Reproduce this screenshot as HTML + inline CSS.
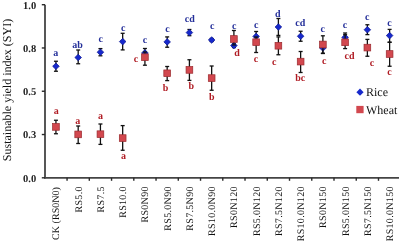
<!DOCTYPE html>
<html><head><meta charset="utf-8"><style>
html,body{margin:0;padding:0;background:#fff;}
svg{display:block;will-change:transform;}
text{font-family:"Liberation Serif",serif;text-rendering:geometricPrecision;}
.yt{font-size:10.5px;font-weight:bold;text-anchor:end;fill:#222;}
.xt{font-size:10px;letter-spacing:0.32px;text-anchor:end;fill:#111;}
.tt{font-size:12px;text-anchor:middle;fill:#111;}
.dl{font-size:10px;font-weight:bold;text-anchor:middle;}
.lg{font-size:12px;fill:#111;}
</style></head><body>
<svg width="400" height="241" viewBox="0 0 400 241">
<line x1="45.0" y1="4.7" x2="45.0" y2="178.60000000000002" stroke="#444" stroke-width="1.8"/>
<line x1="44.2" y1="177.8" x2="399" y2="177.8" stroke="#444" stroke-width="1.8"/>
<line x1="41.8" y1="177.80" x2="45.0" y2="177.80" stroke="#2a2a2a" stroke-width="1.4"/>
<text x="36.2" y="181.60" class="yt">0.0</text>
<line x1="41.8" y1="134.53" x2="45.0" y2="134.53" stroke="#2a2a2a" stroke-width="1.4"/>
<text x="36.2" y="138.33" class="yt">0.3</text>
<line x1="41.8" y1="91.25" x2="45.0" y2="91.25" stroke="#2a2a2a" stroke-width="1.4"/>
<text x="36.2" y="95.05" class="yt">0.5</text>
<line x1="41.8" y1="47.97" x2="45.0" y2="47.97" stroke="#2a2a2a" stroke-width="1.4"/>
<text x="36.2" y="51.77" class="yt">0.8</text>
<line x1="41.8" y1="4.70" x2="45.0" y2="4.70" stroke="#2a2a2a" stroke-width="1.4"/>
<text x="36.2" y="8.50" class="yt">1.0</text>
<line x1="67.06" y1="177.8" x2="67.06" y2="180.8" stroke="#2a2a2a" stroke-width="1.4"/>
<line x1="89.31" y1="177.8" x2="89.31" y2="180.8" stroke="#2a2a2a" stroke-width="1.4"/>
<line x1="111.55" y1="177.8" x2="111.55" y2="180.8" stroke="#2a2a2a" stroke-width="1.4"/>
<line x1="133.80" y1="177.8" x2="133.80" y2="180.8" stroke="#2a2a2a" stroke-width="1.4"/>
<line x1="156.04" y1="177.8" x2="156.04" y2="180.8" stroke="#2a2a2a" stroke-width="1.4"/>
<line x1="178.29" y1="177.8" x2="178.29" y2="180.8" stroke="#2a2a2a" stroke-width="1.4"/>
<line x1="200.53" y1="177.8" x2="200.53" y2="180.8" stroke="#2a2a2a" stroke-width="1.4"/>
<line x1="222.78" y1="177.8" x2="222.78" y2="180.8" stroke="#2a2a2a" stroke-width="1.4"/>
<line x1="245.02" y1="177.8" x2="245.02" y2="180.8" stroke="#2a2a2a" stroke-width="1.4"/>
<line x1="267.27" y1="177.8" x2="267.27" y2="180.8" stroke="#2a2a2a" stroke-width="1.4"/>
<line x1="289.51" y1="177.8" x2="289.51" y2="180.8" stroke="#2a2a2a" stroke-width="1.4"/>
<line x1="311.76" y1="177.8" x2="311.76" y2="180.8" stroke="#2a2a2a" stroke-width="1.4"/>
<line x1="334.00" y1="177.8" x2="334.00" y2="180.8" stroke="#2a2a2a" stroke-width="1.4"/>
<line x1="356.25" y1="177.8" x2="356.25" y2="180.8" stroke="#2a2a2a" stroke-width="1.4"/>
<line x1="378.49" y1="177.8" x2="378.49" y2="180.8" stroke="#2a2a2a" stroke-width="1.4"/>
<line x1="400.74" y1="177.8" x2="400.74" y2="180.8" stroke="#2a2a2a" stroke-width="1.4"/>
<text transform="translate(59.34,187.0) rotate(-90)" class="xt" style="letter-spacing:0.05px">CK (RS0N0)</text>
<text transform="translate(81.59,186.2) rotate(-90)" class="xt">RS5.0</text>
<text transform="translate(103.83,186.2) rotate(-90)" class="xt">RS7.5</text>
<text transform="translate(126.08,186.2) rotate(-90)" class="xt">RS10.0</text>
<text transform="translate(148.32,186.2) rotate(-90)" class="xt">RS0N90</text>
<text transform="translate(170.57,186.2) rotate(-90)" class="xt">RS5.0N90</text>
<text transform="translate(192.81,186.2) rotate(-90)" class="xt">RS7.5N90</text>
<text transform="translate(215.06,186.2) rotate(-90)" class="xt">RS10.0N90</text>
<text transform="translate(237.30,186.2) rotate(-90)" class="xt">RS0N120</text>
<text transform="translate(259.54,186.2) rotate(-90)" class="xt">RS5.0N120</text>
<text transform="translate(281.79,186.2) rotate(-90)" class="xt">RS7.5N120</text>
<text transform="translate(304.03,186.2) rotate(-90)" class="xt">RS10.0N120</text>
<text transform="translate(326.28,186.2) rotate(-90)" class="xt">RS0N150</text>
<text transform="translate(348.52,186.2) rotate(-90)" class="xt">RS5.0N150</text>
<text transform="translate(370.77,186.2) rotate(-90)" class="xt">RS7.5N150</text>
<text transform="translate(393.01,186.2) rotate(-90)" class="xt">RS10.0N150</text>
<text transform="translate(10.6,90) rotate(-90)" class="tt">Sustainable yield index (SYI)</text>
<line x1="55.94" y1="61.25" x2="55.94" y2="71.25" stroke="#111" stroke-width="1.3"/><line x1="53.94" y1="61.25" x2="57.94" y2="61.25" stroke="#111" stroke-width="1.3"/><line x1="53.94" y1="71.25" x2="57.94" y2="71.25" stroke="#111" stroke-width="1.3"/>
<path d="M55.94 62.95L59.24 66.25L55.94 69.55L52.64 66.25Z" fill="#1729cc" stroke="#0c1690" stroke-width="0.7"/>
<line x1="78.19" y1="50.0" x2="78.19" y2="63.75" stroke="#111" stroke-width="1.3"/><line x1="76.19" y1="50.0" x2="80.19" y2="50.0" stroke="#111" stroke-width="1.3"/><line x1="76.19" y1="63.75" x2="80.19" y2="63.75" stroke="#111" stroke-width="1.3"/>
<path d="M78.19 54.20L81.48 57.50L78.19 60.80L74.89 57.50Z" fill="#1729cc" stroke="#0c1690" stroke-width="0.7"/>
<line x1="100.43" y1="48.6" x2="100.43" y2="55.8" stroke="#111" stroke-width="1.3"/><line x1="98.43" y1="48.6" x2="102.43" y2="48.6" stroke="#111" stroke-width="1.3"/><line x1="98.43" y1="55.8" x2="102.43" y2="55.8" stroke="#111" stroke-width="1.3"/>
<path d="M100.43 48.90L103.73 52.20L100.43 55.50L97.13 52.20Z" fill="#1729cc" stroke="#0c1690" stroke-width="0.7"/>
<line x1="122.67" y1="33.3" x2="122.67" y2="49.9" stroke="#111" stroke-width="1.3"/><line x1="120.67" y1="33.3" x2="124.67" y2="33.3" stroke="#111" stroke-width="1.3"/><line x1="120.67" y1="49.9" x2="124.67" y2="49.9" stroke="#111" stroke-width="1.3"/>
<path d="M122.67 38.30L125.97 41.60L122.67 44.90L119.38 41.60Z" fill="#1729cc" stroke="#0c1690" stroke-width="0.7"/>
<line x1="144.92" y1="48.5" x2="144.92" y2="58.0" stroke="#111" stroke-width="1.3"/><line x1="142.92" y1="48.5" x2="146.92" y2="48.5" stroke="#111" stroke-width="1.3"/><line x1="142.92" y1="58.0" x2="146.92" y2="58.0" stroke="#111" stroke-width="1.3"/>
<path d="M144.92 49.60L148.22 52.90L144.92 56.20L141.62 52.90Z" fill="#1729cc" stroke="#0c1690" stroke-width="0.7"/>
<line x1="167.17" y1="36.9" x2="167.17" y2="47.25" stroke="#111" stroke-width="1.3"/><line x1="165.17" y1="36.9" x2="169.17" y2="36.9" stroke="#111" stroke-width="1.3"/><line x1="165.17" y1="47.25" x2="169.17" y2="47.25" stroke="#111" stroke-width="1.3"/>
<path d="M167.17 38.60L170.47 41.90L167.17 45.20L163.87 41.90Z" fill="#1729cc" stroke="#0c1690" stroke-width="0.7"/>
<line x1="189.41" y1="29.5" x2="189.41" y2="35.7" stroke="#111" stroke-width="1.3"/><line x1="187.41" y1="29.5" x2="191.41" y2="29.5" stroke="#111" stroke-width="1.3"/><line x1="187.41" y1="35.7" x2="191.41" y2="35.7" stroke="#111" stroke-width="1.3"/>
<path d="M189.41 29.30L192.71 32.60L189.41 35.90L186.11 32.60Z" fill="#1729cc" stroke="#0c1690" stroke-width="0.7"/>
<line x1="211.66" y1="38.5" x2="211.66" y2="41.5" stroke="#111" stroke-width="1.3"/><line x1="209.66" y1="38.5" x2="213.66" y2="38.5" stroke="#111" stroke-width="1.3"/><line x1="209.66" y1="41.5" x2="213.66" y2="41.5" stroke="#111" stroke-width="1.3"/>
<path d="M211.66 36.70L214.96 40.00L211.66 43.30L208.35 40.00Z" fill="#1729cc" stroke="#0c1690" stroke-width="0.7"/>
<line x1="233.90" y1="43.6" x2="233.90" y2="47.6" stroke="#111" stroke-width="1.3"/><line x1="231.90" y1="43.6" x2="235.90" y2="43.6" stroke="#111" stroke-width="1.3"/><line x1="231.90" y1="47.6" x2="235.90" y2="47.6" stroke="#111" stroke-width="1.3"/>
<path d="M233.90 42.30L237.20 45.60L233.90 48.90L230.60 45.60Z" fill="#1729cc" stroke="#0c1690" stroke-width="0.7"/>
<line x1="256.14" y1="31.5" x2="256.14" y2="40.5" stroke="#111" stroke-width="1.3"/><line x1="254.14" y1="31.5" x2="258.14" y2="31.5" stroke="#111" stroke-width="1.3"/><line x1="254.14" y1="40.5" x2="258.14" y2="40.5" stroke="#111" stroke-width="1.3"/>
<path d="M256.14 33.10L259.44 36.40L256.14 39.70L252.84 36.40Z" fill="#1729cc" stroke="#0c1690" stroke-width="0.7"/>
<line x1="278.39" y1="18.5" x2="278.39" y2="35.4" stroke="#111" stroke-width="1.3"/><line x1="276.39" y1="18.5" x2="280.39" y2="18.5" stroke="#111" stroke-width="1.3"/><line x1="276.39" y1="35.4" x2="280.39" y2="35.4" stroke="#111" stroke-width="1.3"/>
<path d="M278.39 23.70L281.69 27.00L278.39 30.30L275.09 27.00Z" fill="#1729cc" stroke="#0c1690" stroke-width="0.7"/>
<line x1="300.63" y1="31.25" x2="300.63" y2="41.25" stroke="#111" stroke-width="1.3"/><line x1="298.63" y1="31.25" x2="302.63" y2="31.25" stroke="#111" stroke-width="1.3"/><line x1="298.63" y1="41.25" x2="302.63" y2="41.25" stroke="#111" stroke-width="1.3"/>
<path d="M300.63 32.95L303.94 36.25L300.63 39.55L297.33 36.25Z" fill="#1729cc" stroke="#0c1690" stroke-width="0.7"/>
<line x1="322.88" y1="42.5" x2="322.88" y2="53.5" stroke="#111" stroke-width="1.3"/><line x1="320.88" y1="42.5" x2="324.88" y2="42.5" stroke="#111" stroke-width="1.3"/><line x1="320.88" y1="53.5" x2="324.88" y2="53.5" stroke="#111" stroke-width="1.3"/>
<path d="M322.88 44.70L326.18 48.00L322.88 51.30L319.58 48.00Z" fill="#1729cc" stroke="#0c1690" stroke-width="0.7"/>
<line x1="345.12" y1="33.0" x2="345.12" y2="43.0" stroke="#111" stroke-width="1.3"/><line x1="343.12" y1="33.0" x2="347.12" y2="33.0" stroke="#111" stroke-width="1.3"/><line x1="343.12" y1="43.0" x2="347.12" y2="43.0" stroke="#111" stroke-width="1.3"/>
<path d="M345.12 34.10L348.43 37.40L345.12 40.70L341.82 37.40Z" fill="#1729cc" stroke="#0c1690" stroke-width="0.7"/>
<line x1="367.37" y1="24.75" x2="367.37" y2="34.6" stroke="#111" stroke-width="1.3"/><line x1="365.37" y1="24.75" x2="369.37" y2="24.75" stroke="#111" stroke-width="1.3"/><line x1="365.37" y1="34.6" x2="369.37" y2="34.6" stroke="#111" stroke-width="1.3"/>
<path d="M367.37 26.45L370.67 29.75L367.37 33.05L364.07 29.75Z" fill="#1729cc" stroke="#0c1690" stroke-width="0.7"/>
<line x1="389.62" y1="29.4" x2="389.62" y2="42.25" stroke="#111" stroke-width="1.3"/><line x1="387.62" y1="29.4" x2="391.62" y2="29.4" stroke="#111" stroke-width="1.3"/><line x1="387.62" y1="42.25" x2="391.62" y2="42.25" stroke="#111" stroke-width="1.3"/>
<path d="M389.62 32.30L392.92 35.60L389.62 38.90L386.31 35.60Z" fill="#1729cc" stroke="#0c1690" stroke-width="0.7"/>
<line x1="55.94" y1="120.25" x2="55.94" y2="133.75" stroke="#111" stroke-width="1.3"/><line x1="53.94" y1="120.25" x2="57.94" y2="120.25" stroke="#111" stroke-width="1.3"/><line x1="53.94" y1="133.75" x2="57.94" y2="133.75" stroke="#111" stroke-width="1.3"/>
<rect x="52.59" y="123.55" width="6.7" height="6.7" fill="#d2484f" stroke="#9a2a2e" stroke-width="0.7"/>
<line x1="78.19" y1="126.0" x2="78.19" y2="143.5" stroke="#111" stroke-width="1.3"/><line x1="76.19" y1="126.0" x2="80.19" y2="126.0" stroke="#111" stroke-width="1.3"/><line x1="76.19" y1="143.5" x2="80.19" y2="143.5" stroke="#111" stroke-width="1.3"/>
<rect x="74.84" y="131.05" width="6.7" height="6.7" fill="#d2484f" stroke="#9a2a2e" stroke-width="0.7"/>
<line x1="100.43" y1="124.0" x2="100.43" y2="144.4" stroke="#111" stroke-width="1.3"/><line x1="98.43" y1="124.0" x2="102.43" y2="124.0" stroke="#111" stroke-width="1.3"/><line x1="98.43" y1="144.4" x2="102.43" y2="144.4" stroke="#111" stroke-width="1.3"/>
<rect x="97.08" y="130.85" width="6.7" height="6.7" fill="#d2484f" stroke="#9a2a2e" stroke-width="0.7"/>
<line x1="122.67" y1="125.6" x2="122.67" y2="150.25" stroke="#111" stroke-width="1.3"/><line x1="120.67" y1="125.6" x2="124.67" y2="125.6" stroke="#111" stroke-width="1.3"/><line x1="120.67" y1="150.25" x2="124.67" y2="150.25" stroke="#111" stroke-width="1.3"/>
<rect x="119.33" y="134.75" width="6.7" height="6.7" fill="#d2484f" stroke="#9a2a2e" stroke-width="0.7"/>
<line x1="144.92" y1="52.0" x2="144.92" y2="65.2" stroke="#111" stroke-width="1.3"/><line x1="142.92" y1="52.0" x2="146.92" y2="52.0" stroke="#111" stroke-width="1.3"/><line x1="142.92" y1="65.2" x2="146.92" y2="65.2" stroke="#111" stroke-width="1.3"/>
<rect x="141.57" y="53.85" width="6.7" height="6.7" fill="#d2484f" stroke="#9a2a2e" stroke-width="0.7"/>
<line x1="167.17" y1="66.5" x2="167.17" y2="80.6" stroke="#111" stroke-width="1.3"/><line x1="165.17" y1="66.5" x2="169.17" y2="66.5" stroke="#111" stroke-width="1.3"/><line x1="165.17" y1="80.6" x2="169.17" y2="80.6" stroke="#111" stroke-width="1.3"/>
<rect x="163.82" y="69.95" width="6.7" height="6.7" fill="#d2484f" stroke="#9a2a2e" stroke-width="0.7"/>
<line x1="189.41" y1="59.75" x2="189.41" y2="80.4" stroke="#111" stroke-width="1.3"/><line x1="187.41" y1="59.75" x2="191.41" y2="59.75" stroke="#111" stroke-width="1.3"/><line x1="187.41" y1="80.4" x2="191.41" y2="80.4" stroke="#111" stroke-width="1.3"/>
<rect x="186.06" y="66.55" width="6.7" height="6.7" fill="#d2484f" stroke="#9a2a2e" stroke-width="0.7"/>
<line x1="211.66" y1="66.0" x2="211.66" y2="90.25" stroke="#111" stroke-width="1.3"/><line x1="209.66" y1="66.0" x2="213.66" y2="66.0" stroke="#111" stroke-width="1.3"/><line x1="209.66" y1="90.25" x2="213.66" y2="90.25" stroke="#111" stroke-width="1.3"/>
<rect x="208.31" y="74.75" width="6.7" height="6.7" fill="#d2484f" stroke="#9a2a2e" stroke-width="0.7"/>
<line x1="233.90" y1="30.5" x2="233.90" y2="45.0" stroke="#111" stroke-width="1.3"/><line x1="231.90" y1="30.5" x2="235.90" y2="30.5" stroke="#111" stroke-width="1.3"/><line x1="231.90" y1="45.0" x2="235.90" y2="45.0" stroke="#111" stroke-width="1.3"/>
<rect x="230.55" y="35.65" width="6.7" height="6.7" fill="#d2484f" stroke="#9a2a2e" stroke-width="0.7"/>
<line x1="256.14" y1="37.0" x2="256.14" y2="52.5" stroke="#111" stroke-width="1.3"/><line x1="254.14" y1="37.0" x2="258.14" y2="37.0" stroke="#111" stroke-width="1.3"/><line x1="254.14" y1="52.5" x2="258.14" y2="52.5" stroke="#111" stroke-width="1.3"/>
<rect x="252.79" y="38.85" width="6.7" height="6.7" fill="#d2484f" stroke="#9a2a2e" stroke-width="0.7"/>
<line x1="278.39" y1="36.9" x2="278.39" y2="54.75" stroke="#111" stroke-width="1.3"/><line x1="276.39" y1="36.9" x2="280.39" y2="36.9" stroke="#111" stroke-width="1.3"/><line x1="276.39" y1="54.75" x2="280.39" y2="54.75" stroke="#111" stroke-width="1.3"/>
<rect x="275.04" y="42.40" width="6.7" height="6.7" fill="#d2484f" stroke="#9a2a2e" stroke-width="0.7"/>
<line x1="300.63" y1="51.5" x2="300.63" y2="72.5" stroke="#111" stroke-width="1.3"/><line x1="298.63" y1="51.5" x2="302.63" y2="51.5" stroke="#111" stroke-width="1.3"/><line x1="298.63" y1="72.5" x2="302.63" y2="72.5" stroke="#111" stroke-width="1.3"/>
<rect x="297.28" y="58.25" width="6.7" height="6.7" fill="#d2484f" stroke="#9a2a2e" stroke-width="0.7"/>
<line x1="322.88" y1="35.8" x2="322.88" y2="53.2" stroke="#111" stroke-width="1.3"/><line x1="320.88" y1="35.8" x2="324.88" y2="35.8" stroke="#111" stroke-width="1.3"/><line x1="320.88" y1="53.2" x2="324.88" y2="53.2" stroke="#111" stroke-width="1.3"/>
<rect x="319.53" y="41.15" width="6.7" height="6.7" fill="#d2484f" stroke="#9a2a2e" stroke-width="0.7"/>
<line x1="345.12" y1="34.7" x2="345.12" y2="48.6" stroke="#111" stroke-width="1.3"/><line x1="343.12" y1="34.7" x2="347.12" y2="34.7" stroke="#111" stroke-width="1.3"/><line x1="343.12" y1="48.6" x2="347.12" y2="48.6" stroke="#111" stroke-width="1.3"/>
<rect x="341.77" y="38.95" width="6.7" height="6.7" fill="#d2484f" stroke="#9a2a2e" stroke-width="0.7"/>
<line x1="367.37" y1="39.4" x2="367.37" y2="56.25" stroke="#111" stroke-width="1.3"/><line x1="365.37" y1="39.4" x2="369.37" y2="39.4" stroke="#111" stroke-width="1.3"/><line x1="365.37" y1="56.25" x2="369.37" y2="56.25" stroke="#111" stroke-width="1.3"/>
<rect x="364.02" y="44.25" width="6.7" height="6.7" fill="#d2484f" stroke="#9a2a2e" stroke-width="0.7"/>
<line x1="389.62" y1="42.25" x2="389.62" y2="66.25" stroke="#111" stroke-width="1.3"/><line x1="387.62" y1="42.25" x2="391.62" y2="42.25" stroke="#111" stroke-width="1.3"/><line x1="387.62" y1="66.25" x2="391.62" y2="66.25" stroke="#111" stroke-width="1.3"/>
<rect x="386.26" y="50.65" width="6.7" height="6.7" fill="#d2484f" stroke="#9a2a2e" stroke-width="0.7"/>
<text x="55.70" y="56.00" class="dl" fill="#25309a">a</text>
<text x="77.50" y="47.60" class="dl" fill="#25309a">ab</text>
<text x="100.70" y="42.40" class="dl" fill="#25309a">c</text>
<text x="123.20" y="31.40" class="dl" fill="#25309a">c</text>
<text x="145.00" y="42.80" class="dl" fill="#25309a">c</text>
<text x="167.50" y="32.20" class="dl" fill="#25309a">c</text>
<text x="189.80" y="21.80" class="dl" fill="#25309a">cd</text>
<text x="212.30" y="29.20" class="dl" fill="#25309a">c</text>
<text x="234.30" y="29.10" class="dl" fill="#25309a">c</text>
<text x="256.20" y="28.10" class="dl" fill="#25309a">c</text>
<text x="277.70" y="16.80" class="dl" fill="#25309a">d</text>
<text x="300.20" y="25.80" class="dl" fill="#25309a">cd</text>
<text x="322.70" y="32.20" class="dl" fill="#25309a">c</text>
<text x="345.00" y="28.00" class="dl" fill="#25309a">c</text>
<text x="367.30" y="19.60" class="dl" fill="#25309a">c</text>
<text x="389.50" y="26.00" class="dl" fill="#25309a">c</text>
<text x="56.20" y="114.20" class="dl" fill="#b01c24">a</text>
<text x="77.70" y="123.60" class="dl" fill="#b01c24">a</text>
<text x="100.50" y="119.20" class="dl" fill="#b01c24">a</text>
<text x="123.50" y="159.10" class="dl" fill="#b01c24">a</text>
<text x="136.00" y="61.60" class="dl" fill="#b01c24">c</text>
<text x="165.50" y="90.50" class="dl" fill="#b01c24">b</text>
<text x="191.20" y="89.10" class="dl" fill="#b01c24">b</text>
<text x="211.80" y="100.00" class="dl" fill="#b01c24">b</text>
<text x="237.00" y="55.80" class="dl" fill="#b01c24">d</text>
<text x="256.00" y="61.90" class="dl" fill="#b01c24">c</text>
<text x="274.30" y="64.80" class="dl" fill="#b01c24">c</text>
<text x="300.20" y="81.30" class="dl" fill="#b01c24">bc</text>
<text x="324.30" y="64.20" class="dl" fill="#b01c24">c</text>
<text x="349.50" y="58.80" class="dl" fill="#b01c24">cd</text>
<text x="372.00" y="65.80" class="dl" fill="#b01c24">c</text>
<text x="389.50" y="74.60" class="dl" fill="#b01c24">c</text>
<path d="M360 88.6L363.6 92.2L360 95.8L356.4 92.2Z" fill="#1729cc"/>
<text x="366" y="95.9" class="lg">Rice</text>
<rect x="356.3" y="105.9" width="7.3" height="7.3" fill="#d2484f"/>
<text x="366" y="114" class="lg">Wheat</text>
</svg>
</body></html>
